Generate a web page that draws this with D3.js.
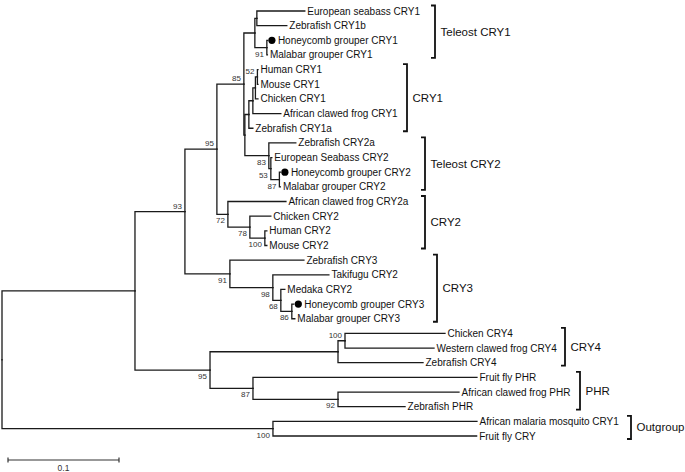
<!DOCTYPE html>
<html><head><meta charset="utf-8">
<script src="https://cdn.jsdelivr.net/npm/d3@7"></script>
<style>
body{margin:0;background:#fff}
svg{display:block}
text{font-family:"Liberation Sans",Arial,Helvetica,sans-serif}
</style>
</head><body>
<svg id="chart" width="685" height="472"></svg>
<script>
// ---- DATA: tree as an edge list (pre-order), branch lengths and bootstrap support ----
const nodeIds = [
  "root","ingroup","cry123","cry12","n85","tCry1","nSeabass",
  "European seabass CRY1","Zebrafish CRY1b","nGrp1","Honeycomb grouper CRY1","Malabar grouper CRY1",
  "nD","nE","nF","nH","nG","Human CRY1","Mouse CRY1","Chicken CRY1","African clawed frog CRY1","Zebrafish CRY1a",
  "tCry2","Zebrafish CRY2a","nB","European Seabass CRY2","nC","Honeycomb grouper CRY2","Malabar grouper CRY2",
  "n72","African clawed frog CRY2a","n78","Chicken CRY2","nMam2","Human CRY2","Mouse CRY2",
  "cry3","Zebrafish CRY3","n98","Takifugu CRY2","n68","Medaka CRY2","n86","Honeycomb grouper CRY3","Malabar grouper CRY3",
  "cry4phr","cry4","nCry4a","Chicken CRY4","Western clawed frog CRY4","Zebrafish CRY4",
  "phr","Fruit fly PHR","n92","African clawed frog PHR","Zebrafish PHR",
  "outgroup","African malaria mosquito CRY1","Fruit fly CRY"
];
const parentIds = [
  "","root","ingroup","cry123","cry12","n85","tCry1",
  "nSeabass","nSeabass","tCry1","nGrp1","nGrp1",
  "n85","nD","nE","nF","nH","nG","nG","nH","nF","nE",
  "nD","tCry2","tCry2","nB","nB","nC","nC",
  "cry12","n72","n72","n78","n78","nMam2","nMam2",
  "cry123","cry3","cry3","n98","n98","n68","n68","n86","n86",
  "ingroup","cry4phr","cry4","nCry4a","nCry4a","cry4",
  "cry4phr","phr","phr","n92","n92",
  "root","outgroup","outgroup"
];
const branchLengths = [
  0,0.1198,0.0450,0.0288,0.0243,0.0099,0.0018,
  0.0432,0.0270,0.0108,0.0005,0.0005,
  0.0009,0.0036,0.0036,0.0023,0.0018,0.0005,0.0005,0.0023,0.0252,0.0036,
  0.0216,0.0243,0.0018,0.0009,0.0077,0.0009,0.0009,
  0.0099,0.0523,0.0198,0.0189,0.0135,0.0018,0.0018,
  0.0405,0.0667,0.0387,0.0505,0.0072,0.0036,0.0099,0.0018,0.0027,
  0.0676,0.1153,0.0063,0.0901,0.0802,0.0766,
  0.0387,0.2018,0.0766,0.1090,0.0604,
  0.2441,0.1838,0.1835
];
const bootstrap = [
  null,null,93,95,85,null,null,
  null,null,91,null,null,
  null,null,null,null,52,null,null,null,null,null,
  83,null,53,null,87,null,null,
  72,null,78,null,100,null,null,
  91,null,98,null,68,null,86,null,null,
  95,null,100,null,null,null,
  87,null,92,null,null,
  100,null,null
];
const markedTips = ["Honeycomb grouper CRY1","Honeycomb grouper CRY2","Honeycomb grouper CRY3"];

const cladeNames = ["Teleost CRY1","CRY1","Teleost CRY2","CRY2","CRY3","CRY4","PHR","Outgroup"];
const cladeFirst = ["European seabass CRY1","Human CRY1","Zebrafish CRY2a","African clawed frog CRY2a","Zebrafish CRY3","Chicken CRY4","Fruit fly PHR","African malaria mosquito CRY1"];
const cladeLast  = ["Malabar grouper CRY1","Zebrafish CRY1a","Malabar grouper CRY2","Mouse CRY2","Malabar grouper CRY3","Zebrafish CRY4","Zebrafish PHR","Fruit fly CRY"];

const scaleBarValue = 0.1;
const scaleBarLabel = "0.1";

// ---- LAYOUT (styling, not data) ----
const bracketX = [435,407,425,425,437,565,580,631];
const pxPerUnit = 1110;
const rootX = 2;

// ---- BUILD ----
const table = nodeIds.map((id,i)=>({id, parent: parentIds[i] || null, len: branchLengths[i], support: bootstrap[i]}));
const root = d3.stratify().id(d=>d.id).parentId(d=>d.parent)(table);
root.eachBefore(n => { n.dist = n.parent ? n.parent.dist + n.data.len : 0; });
const leaves = root.leaves();
const maxDist = d3.max(leaves, l => l.dist);
const x = d3.scaleLinear().domain([0, maxDist]).range([rootX, rootX + maxDist*pxPerUnit]);
const y = d3.scaleLinear().domain([0, leaves.length-1]).range([11, 436]);
leaves.forEach((l,i) => l.yPos = y(i));
root.eachAfter(n => { if (n.children) n.yPos = (n.children[0].yPos + n.children[n.children.length-1].yPos)/2; });
const yOf = {}; leaves.forEach(l => yOf[l.id] = l.yPos);

const svg = d3.select("#chart");
const g = svg.append("g");

// branches (rectangular)
g.append("g").selectAll("path").data(root.descendants().filter(n=>n.parent)).join("path")
  .attr("d", n => `M${x(n.parent.dist)},${n.parent.yPos}V${n.yPos}H${x(n.dist)}`)
  .attr("fill","none").attr("stroke","#1a1a1a").attr("stroke-width",1.3)
  .attr("stroke-linecap","square");

// bootstrap values
g.append("g").selectAll("text").data(root.descendants().filter(n=>n.data.support!=null)).join("text")
  .attr("x", n => x(n.dist) - 3)
  .attr("y", n => n.yPos + ((n.parent && n.parent.children[0] === n) ? -3 : 9))
  .attr("text-anchor","end").attr("font-size","8px").attr("fill","#333")
  .text(n => n.data.support);

// tip markers
g.append("g").selectAll("circle").data(leaves.filter(l=>markedTips.includes(l.id))).join("circle")
  .attr("cx", l => x(l.dist) + 4.5).attr("cy", l => l.yPos).attr("r", 3.6).attr("fill","#000");

// tip labels
g.append("g").selectAll("text").data(leaves).join("text")
  .attr("x", l => x(l.dist) + (markedTips.includes(l.id) ? 10.5 : 2.5))
  .attr("y", l => l.yPos).attr("dy","0.35em")
  .attr("font-size","10px").attr("fill","#111")
  .text(l => l.id);

// clade brackets
const clades = cladeNames.map((name,i)=>({name, y1: yOf[cladeFirst[i]] - 5.5, y2: yOf[cladeLast[i]] + 3, bx: bracketX[i]}));
const cg = g.append("g").selectAll("g").data(clades).join("g");
cg.append("path")
  .attr("d", c => `M${c.bx-4},${c.y1}H${c.bx}V${c.y2}H${c.bx-4}`)
  .attr("fill","none").attr("stroke","#111").attr("stroke-width",1.8);
cg.append("text")
  .attr("x", c => c.bx + 5.5).attr("y", c => (c.y1+c.y2)/2).attr("dy","0.35em")
  .attr("font-size","11.5px").attr("fill","#111")
  .text(c => c.name);

// scale bar
const sbX0 = 8, sbW = x(scaleBarValue) - x(0), sbY = 460;
const sb = g.append("g");
sb.append("path").attr("d", `M${sbX0},${sbY}H${sbX0+sbW}M${sbX0},${sbY-2.5}V${sbY+2.5}M${sbX0+sbW},${sbY-2.5}V${sbY+2.5}`)
  .attr("stroke","#333").attr("stroke-width",1.2).attr("fill","none");
sb.append("text").attr("x", sbX0 + sbW/2).attr("y", 471).attr("text-anchor","middle")
  .attr("font-size","8.5px").attr("fill","#333").text(scaleBarLabel);
</script>
</body></html>
